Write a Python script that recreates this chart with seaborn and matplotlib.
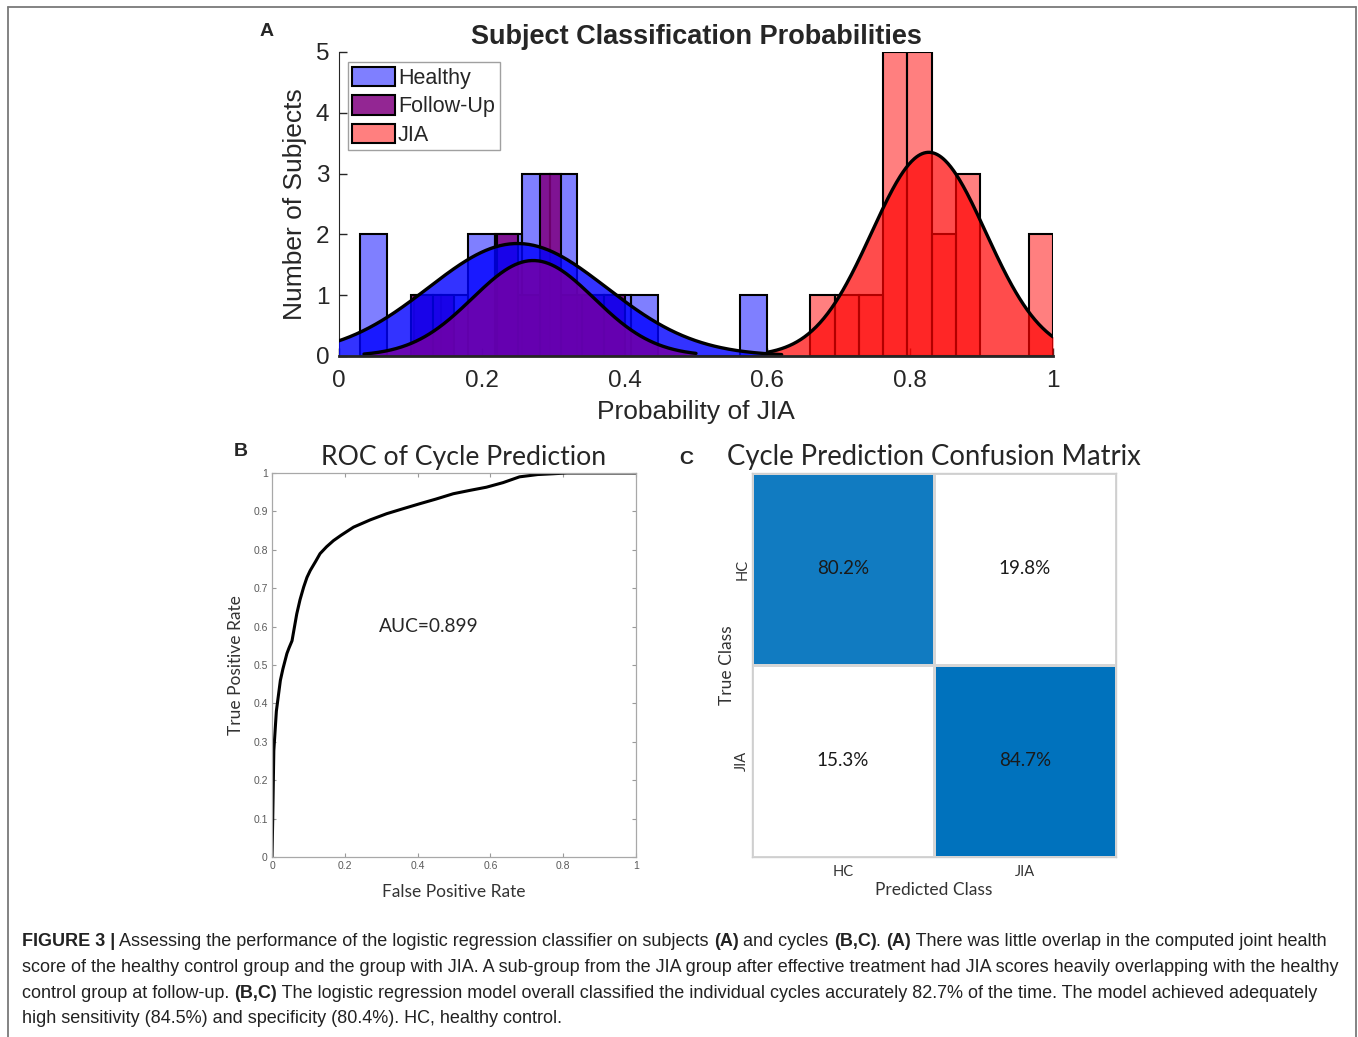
import numpy as np
import pandas as pd
import matplotlib
matplotlib.use("Agg")
import matplotlib.pyplot as plt
import seaborn as sns
from matplotlib.colors import LinearSegmentedColormap
from matplotlib.font_manager import FontProperties
from matplotlib.lines import Line2D
from matplotlib.patches import Patch
from matplotlib.ticker import FuncFormatter

# ---- A: subject histograms (bin edges / counts) ----
group_names = ["Healthy", "Follow-Up", "JIA"]
healthy_edges = [0.029, 0.067, 0.105, 0.143, 0.181, 0.219, 0.257, 0.295,
                 0.333, 0.371, 0.409, 0.447, 0.485, 0.523, 0.561, 0.599]
healthy_counts = [2, 0, 1, 1, 2, 2, 3, 3, 1, 1, 1, 0, 0, 0, 1]
followup_edges = [0.101, 0.131, 0.161, 0.191, 0.221, 0.251, 0.281, 0.311,
                  0.341, 0.371, 0.401]
followup_counts = [1, 1, 0, 0, 2, 1, 3, 1, 1, 1]
jia_edges = [0.66, 0.694, 0.728, 0.762, 0.796, 0.83, 0.864, 0.898, 0.932,
             0.966, 1.0]
jia_counts = [1, 1, 1, 5, 5, 2, 3, 0, 0, 2]

# normal fits drawn over each histogram (histfit)
fit_mean = [0.25, 0.272, 0.826]
fit_sd = [0.125, 0.085, 0.08]
fit_peak = [1.85, 1.57, 3.35]
fit_lo = [-0.05, 0.035, 0.6]
fit_hi = [0.62, 0.5, 1.0]

# ---- B: ROC curve ----
roc_fpr = [0.0, 0.002, 0.005, 0.012, 0.023, 0.03, 0.041, 0.047, 0.055, 0.06,
           0.068, 0.077, 0.087, 0.096, 0.105, 0.12, 0.132, 0.15, 0.169, 0.19,
           0.224, 0.27, 0.315, 0.36, 0.406, 0.45, 0.498, 0.545, 0.589, 0.635,
           0.68, 0.73, 0.772, 0.81, 0.85, 1.0]
roc_tpr = [0.0, 0.1, 0.277, 0.38, 0.46, 0.49, 0.53, 0.545, 0.563, 0.59,
           0.633, 0.67, 0.703, 0.728, 0.746, 0.77, 0.79, 0.808, 0.824, 0.838,
           0.859, 0.878, 0.894, 0.907, 0.92, 0.932, 0.946, 0.955, 0.963, 0.975,
           0.99, 0.996, 0.998, 1.0, 1.0, 1.0]
auc_text = "AUC=0.899"

# ---- C: confusion matrix (%) ----
class_labels = ["HC", "JIA"]
cm_values = [[80.2, 19.8], [15.3, 84.7]]

caption_lines = [
    [("FIGURE 3 |", True), (" Assessing the performance of the logistic regression classifier on subjects ", False),
     ("(A)", True), (" and cycles ", False), ("(B,C)", True), (". ", False), ("(A)", True),
     (" There was little overlap in the computed joint health", False)],
    [("score of the healthy control group and the group with JIA. A sub-group from the JIA group after "
      "effective treatment had JIA scores heavily overlapping with the healthy", False)],
    [("control group at follow-up. ", False), ("(B,C)", True),
     (" The logistic regression model overall classified the individual cycles accurately 82.7% of the "
      "time. The model achieved adequately", False)],
    [("high sensitivity (84.5%) and specificity (80.4%). HC, healthy control.", False)],
]

sns.set_style("ticks")
plt.rcParams["font.family"] = ["Liberation Sans", "DejaVu Sans"]
CAL = ["Lato", "DejaVu Sans"]

W, H = 1358, 1037
fig = plt.figure(figsize=(W / 100, H / 100), dpi=100)


def fx(px):
    return px / W


def fy(py):
    return 1 - py / H


# outer frame (open at the bottom)
frame = dict(color="#7a7a7a", linewidth=1.3, transform=fig.transFigure)
fig.add_artist(Line2D([fx(7.5), fx(7.5)], [fy(6.5), 0], **frame))
fig.add_artist(Line2D([fx(7.5), fx(1355.5)], [fy(6.5), fy(6.5)], **frame))
fig.add_artist(Line2D([fx(1355.5), fx(1355.5)], [fy(6.5), 0], **frame))

# ================= A =================
axA = fig.add_axes([fx(339), fy(356), (1053 - 339) / W, (356 - 52) / H])
hist_edges = [healthy_edges, followup_edges, jia_edges]
hist_counts = [healthy_counts, followup_counts, jia_counts]
bar_face = [(0.0, 0.0, 1.0, 0.5), (0.5, 0.0, 0.5, 0.85), (1.0, 0.0, 0.0, 0.5)]
fill_face = [(0.0, 0.0, 1.0, 0.8), (0.45, 0.0, 0.65, 0.85), (1.0, 0.0, 0.0, 0.7)]
# layering as in the original: both left-hand bar sets sit under the fitted areas
bar_z = [1, 2, 5]
fill_z = [3, 4, 6]

for i in range(3):
    edges = list(hist_edges[i])
    centers = [(a + b) / 2 for a, b in zip(edges[:-1], edges[1:])]
    df = pd.DataFrame({"prob": centers, "n": hist_counts[i]})
    sns.histplot(data=df, x="prob", weights="n", bins=edges, ax=axA,
                 facecolor=bar_face[i], edgecolor="black", linewidth=1.5,
                 zorder=bar_z[i])
    xs = np.linspace(fit_lo[i], fit_hi[i], 300)
    ys = fit_peak[i] * np.exp(-0.5 * ((xs - fit_mean[i]) / fit_sd[i]) ** 2)
    axA.fill_between(xs, 0, ys, color=fill_face[i], linewidth=0, zorder=fill_z[i])
    axA.plot(xs, ys, color="black", linewidth=2.4, zorder=10)

axA.set_xlim(0, 1)
axA.set_ylim(0, 5)
axA.set_xticks([0, 0.2, 0.4, 0.6, 0.8, 1])
axA.set_yticks([0, 1, 2, 3, 4, 5])
axA.xaxis.set_major_formatter(FuncFormatter(lambda v, p: f"{v:g}"))
axA.tick_params(direction="in", length=6, width=1, labelsize=17.5, colors="#262626")
axA.tick_params(axis="x", pad=10)
axA.tick_params(axis="y", pad=7)
sns.despine(ax=axA)
axA.spines["left"].set_color("#262626")
axA.spines["bottom"].set_linewidth(2)
axA.spines["bottom"].set_zorder(11)
axA.set_xlabel("Probability of JIA", fontsize=19, labelpad=6)
axA.set_ylabel("Number of Subjects", fontsize=19, labelpad=6)
axA.set_title("Subject Classification Probabilities", fontsize=19.5,
              fontweight="bold", pad=6)
handles = [Patch(facecolor=bar_face[i], edgecolor="black", linewidth=1.5)
           for i in range(3)]
leg = axA.legend(handles, group_names, loc="upper left", bbox_to_anchor=(0.012, 0.967),
                 fontsize=15.5, frameon=True, fancybox=False, framealpha=1,
                 edgecolor="#a0a0a0", handlelength=2.0, handleheight=1.0,
                 handletextpad=0.12, labelspacing=0.3, borderpad=0.22,
                 borderaxespad=0)
leg.get_frame().set_linewidth(1)
leg.set_zorder(20)
fig.text(fx(267), fy(32), "A", fontsize=14, fontweight="bold", ha="center", va="center")

# ================= B =================
axB = fig.add_axes([fx(272), fy(857), (636 - 272) / W, (857 - 473) / H])
sns.lineplot(x=roc_fpr, y=roc_tpr, ax=axB, color="black", linewidth=2.2,
             sort=False, estimator=None)
axB.set_xlim(0, 1)
axB.set_ylim(0, 1)
axB.set_xticks([0, 0.2, 0.4, 0.6, 0.8, 1])
axB.set_yticks([0, 0.1, 0.2, 0.3, 0.4, 0.5, 0.6, 0.7, 0.8, 0.9, 1])
fmt = FuncFormatter(lambda v, p: f"{v:g}")
axB.xaxis.set_major_formatter(fmt)
axB.yaxis.set_major_formatter(fmt)
axB.tick_params(direction="in", length=3, width=0.8, color="#9a9a9a",
                labelcolor="#5a5a5a", labelsize=7.5, top=True, right=True,
                pad=3)
for sp in axB.spines.values():
    sp.set_color("#a8a8a8")
    sp.set_linewidth(0.9)
axB.set_xlabel("False Positive Rate", fontsize=12.5, family=CAL, color="#333333", labelpad=9)
axB.set_ylabel("True Positive Rate", fontsize=12.5, family=CAL, color="#333333", labelpad=7)
axB.set_title("ROC of Cycle Prediction", fontsize=19.2, family=CAL, color="#262626",
              pad=6, x=0.527)
axB.text(0.43, 0.6, auc_text, fontsize=13.8, family=CAL, color="#262626",
         ha="center", va="center", transform=axB.transAxes)
fig.text(fx(241), fy(452), "B", fontsize=14, fontweight="bold", ha="center", va="center")

# ================= C =================
axC = fig.add_axes([fx(752), fy(857), (1116 - 752) / W, (857 - 473) / H])
cm_df = pd.DataFrame(cm_values, index=class_labels, columns=class_labels)
annot = cm_df.map(lambda v: f"{v:.1f}%")
cmap = LinearSegmentedColormap.from_list("cmblue", ["#ffffff", "#0072bd"])
sns.heatmap(cm_df, ax=axC, cmap=cmap, vmin=20, vmax=84.7, annot=annot, fmt="",
            cbar=False, linewidths=1, linecolor="#d6d6d6",
            annot_kws={"fontsize": 13.5, "family": CAL, "color": "#1a1a1a"})
for sp in axC.spines.values():
    sp.set_visible(True)
    sp.set_color("#cfcfcf")
    sp.set_linewidth(1)
axC.tick_params(length=0, labelsize=10.5, labelcolor="#333333")
axC.tick_params(axis="x", pad=6)
axC.tick_params(axis="y", pad=2)
axC.set_yticklabels(class_labels, rotation=90, va="center", family=CAL)
axC.set_xticklabels(class_labels, rotation=0, family=CAL)
axC.set_xlabel("Predicted Class", fontsize=12.5, family=CAL, color="#333333", labelpad=2)
axC.set_ylabel("True Class", fontsize=12.5, family=CAL, color="#333333", labelpad=0)
axC.set_title("Cycle Prediction Confusion Matrix", fontsize=19.8, family=CAL,
              color="#262626", pad=6)
fig.text(fx(686), fy(460), "C", fontsize=14, fontweight="bold", ha="center", va="center")

# ================= caption =================
renderer = fig.canvas.get_renderer()
cap_family = "Liberation Sans"


def run_width(s, size, bold):
    prop = FontProperties(family=cap_family, size=size, weight="bold" if bold else "normal")
    w1, _, _ = renderer.get_text_width_height_descent("a" + s + "a", prop, ismath=False)
    w0, _, _ = renderer.get_text_width_height_descent("aa", prop, ismath=False)
    return w1 - w0


base = 13.0
line1_w = sum(run_width(s, base, b) for s, b in caption_lines[0])
cap_size = base * (1327 - 22) / line1_w

baselines = [946.5, 972, 997.5, 1023]
for runs, yb in zip(caption_lines, baselines):
    x = 22
    for s, b in runs:
        fig.text(fx(x), fy(yb), s, fontsize=cap_size, family=cap_family,
                 fontweight="bold" if b else "normal", color="#222222",
                 ha="left", va="baseline")
        x += run_width(s, cap_size, b)

fig.savefig("out.png", dpi=100)
plt.close(fig)
